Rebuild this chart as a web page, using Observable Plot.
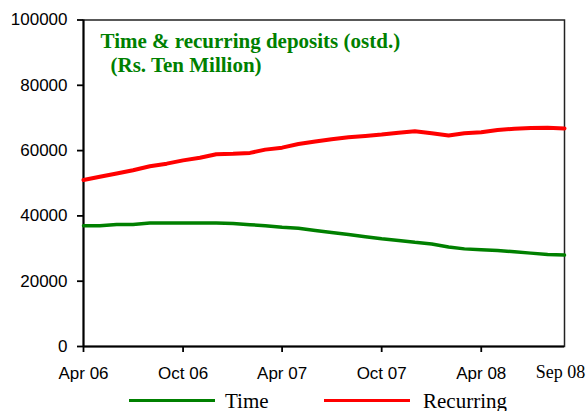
<!DOCTYPE html>
<html>
<head>
<meta charset="utf-8">
<script src="https://cdn.jsdelivr.net/npm/d3@7"></script>
<script src="https://cdn.jsdelivr.net/npm/@observablehq/plot@0.6"></script>
<style>
  html, body { margin: 0; padding: 0; background: white; }
  #wrap { width: 586px; position: relative; }
  #legend { position: relative; width: 586px; height: 23px; font-family: "Liberation Serif", "Times New Roman", serif; font-size: 21px; color: #000; }
  #legend .sw { position: absolute; height: 3px; top: 11.2px; }
  #legend .lb { position: absolute; top: 2.5px; line-height: 21px; white-space: nowrap; }
</style>
</head>
<body>
<div id="wrap"></div>
<script>
// ---- data ----
const months = [
  "2006-04","2006-05","2006-06","2006-07","2006-08","2006-09",
  "2006-10","2006-11","2006-12","2007-01","2007-02","2007-03",
  "2007-04","2007-05","2007-06","2007-07","2007-08","2007-09",
  "2007-10","2007-11","2007-12","2008-01","2008-02","2008-03",
  "2008-04","2008-05","2008-06","2008-07","2008-08","2008-09"
];
const timeDeposits = [
  37000, 37000, 37400, 37400, 37800, 37800,
  37800, 37800, 37800, 37700, 37300, 37000,
  36500, 36200, 35500, 34900, 34300, 33600,
  33000, 32500, 31900, 31400, 30500, 29900,
  29600, 29400, 29000, 28600, 28200, 28000
];
const recurringDeposits = [
  51000, 52000, 53000, 54000, 55200, 56000,
  57000, 57800, 58900, 59000, 59300, 60300,
  60900, 62000, 62800, 63500, 64100, 64500,
  64900, 65500, 65900, 65300, 64600, 65300,
  65600, 66300, 66700, 66900, 67000, 66800
];
const yTicks = [0, 20000, 40000, 60000, 80000, 100000];
const xTickMonths = ["2006-04", "2006-10", "2007-04", "2007-10", "2008-04"];
const lastMonthLabel = "Sep 08";
const titleLine1 = "Time & recurring deposits (ostd.)";
const titleLine2 = "(Rs. Ten Million)";
const seriesNames = ["Time", "Recurring"];
const seriesColors = ["#008000", "#ff0000"];

// ---- build tables ----
const parse = s => new Date(s + "-01T00:00:00Z");
const timeData = months.map((m, i) => ({date: parse(m), value: timeDeposits[i]}));
const recData = months.map((m, i) => ({date: parse(m), value: recurringDeposits[i]}));
const xTicks = xTickMonths.map(parse);
const x0 = parse(months[0]), x1 = parse(months[months.length - 1]);

const sans = "'Liberation Sans', Arial, sans-serif";
const serif = "'Liberation Serif', 'Times New Roman', serif";

const chart = Plot.plot({
  width: 586,
  height: 388,
  marginTop: 19.5,
  marginBottom: 42,
  marginLeft: 83,
  marginRight: 22,
  style: {fontFamily: sans, fontSize: "17px", color: "#000", background: "white", overflow: "visible"},
  x: {type: "utc", domain: [x0, x1]},
  y: {domain: [0, 100000]},
  marks: [
    Plot.frame({stroke: "#222", strokeWidth: 1.5}),
    Plot.axisX({ticks: xTicks, tickFormat: d3.utcFormat("%b %y"), tickSize: 6, tickPadding: 14, strokeWidth: 1.8, label: null, fontSize: 17}),
    Plot.axisY({ticks: yTicks, tickFormat: d3.format("d"), tickSize: 6, tickPadding: 10, strokeWidth: 1.8, label: null, fontSize: 17}),
    Plot.ruleX([x0], {stroke: "#000", strokeWidth: 2}),
    Plot.ruleY([0], {stroke: "#000", strokeWidth: 2}),
    Plot.lineY(timeData, {x: "date", y: "value", stroke: seriesColors[0], strokeWidth: 3.5}),
    Plot.lineY(recData, {x: "date", y: "value", stroke: seriesColors[1], strokeWidth: 4}),
    Plot.text([titleLine1], {frameAnchor: "top-left", textAnchor: "start", lineAnchor: "bottom", dx: 17, dy: 27.5, fill: "#008000", fontWeight: "bold", fontFamily: serif, fontSize: 21}),
    Plot.text([titleLine2], {frameAnchor: "top-left", textAnchor: "start", lineAnchor: "bottom", dx: 27, dy: 52, fill: "#008000", fontWeight: "bold", fontFamily: serif, fontSize: 21}),
    Plot.text([lastMonthLabel], {x: () => x1, frameAnchor: "bottom", lineAnchor: "bottom", dx: -4, dy: 31, fill: "#000", fontFamily: serif, fontSize: 18})
  ]
});

const wrap = document.getElementById("wrap");
wrap.appendChild(chart);

// ---- legend ----
const legend = document.createElement("div");
legend.id = "legend";
const legendPos = [{sw: 129, lb: 225}, {sw: 324, lb: 423}];
seriesNames.forEach((name, i) => {
  const sw = document.createElement("div");
  sw.className = "sw";
  sw.style.left = legendPos[i].sw + "px";
  sw.style.width = "86px";
  sw.style.background = seriesColors[i];
  legend.appendChild(sw);
  const lb = document.createElement("span");
  lb.className = "lb";
  lb.style.left = legendPos[i].lb + "px";
  lb.textContent = name;
  legend.appendChild(lb);
});
wrap.appendChild(legend);
</script>
</body>
</html>
